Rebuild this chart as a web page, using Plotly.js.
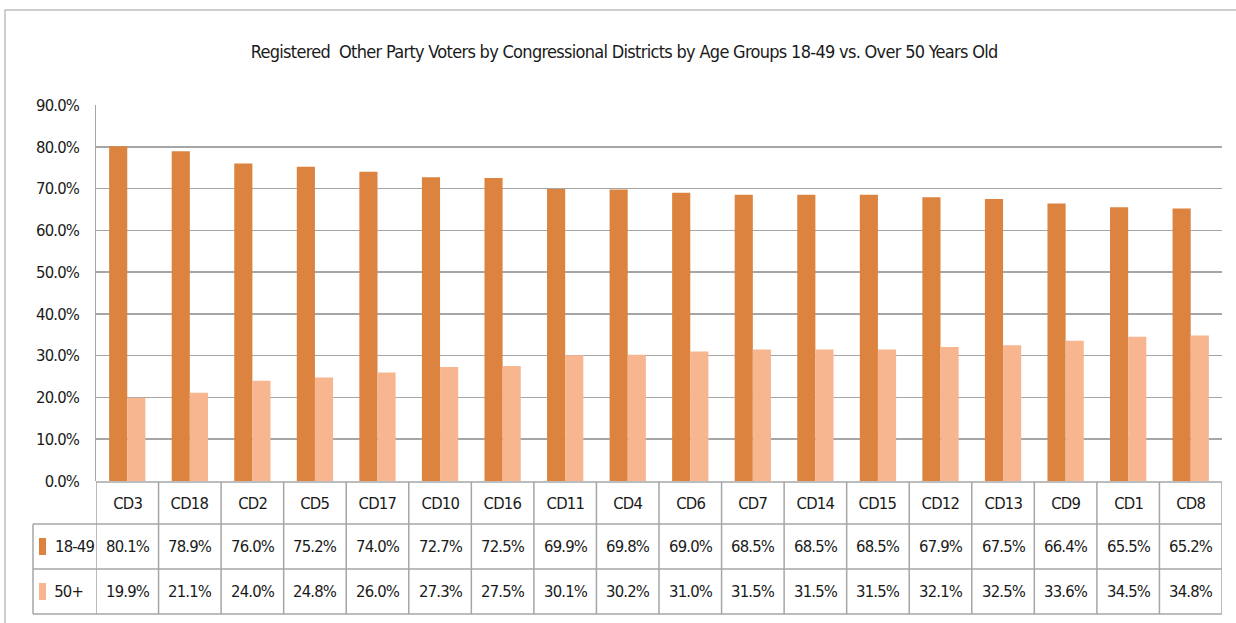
<!DOCTYPE html>
<html><head><meta charset="utf-8">
<script src="https://cdn.plot.ly/plotly-3.0.1.min.js"></script>
<style>html,body{margin:0;padding:0;background:#fff}#chart{width:1236px;height:623px}
#chart .main-svg text{letter-spacing:-0.8px}
#chart .main-svg .gtitle{letter-spacing:-0.7px}
</style>
</head><body><div id="chart"></div>
<script>
const categories = ['CD3','CD18','CD2','CD5','CD17','CD10','CD16','CD11','CD4','CD6','CD7','CD14','CD15','CD12','CD13','CD9','CD1','CD8'];
const series1849 = [80.1,78.9,76.0,75.2,74.0,72.7,72.5,69.9,69.8,69.0,68.5,68.5,68.5,67.9,67.5,66.4,65.5,65.2];
const series50 = [19.9,21.1,24.0,24.8,26.0,27.3,27.5,30.1,30.2,31.0,31.5,31.5,31.5,32.1,32.5,33.6,34.5,34.8];
const seriesNames = ['18-49','50+'];
const colors = ['#DC843F','#F7B590'];

const W=1236,H=623, L=96, R=1222, T=105, B=481;
const FONT = '"DejaVu Sans Condensed","DejaVu Sans",sans-serif';
const px = x => (x-L)/(R-L);
const py = y => (B-y)/(B-T);
const grid = '#A6A6A6';
const txt = '#1a1a1a';
const FS = 16.5;

const rowY = [503, 546, 591];
const lineYs = [482, 524, 569, 614];
const shapes = [];
const annotations = [];

// outer border
shapes.push({type:'rect',xref:'paper',yref:'paper',x0:px(5),x1:px(1245),y0:py(10),y1:py(640),line:{color:'#BFBFBF',width:1.5},fillcolor:'rgba(0,0,0,0)'});
// horizontal table lines
shapes.push({type:'line',xref:'paper',yref:'paper',x0:0,x1:1,y0:py(lineYs[0]),y1:py(lineYs[0]),line:{color:grid,width:1.5}});
for (let k=1;k<lineYs.length;k++){
  shapes.push({type:'line',xref:'paper',yref:'paper',x0:px(33),x1:1,y0:py(lineYs[k]),y1:py(lineYs[k]),line:{color:grid,width:1.5}});
}
// vertical lines
shapes.push({type:'line',xref:'paper',yref:'paper',x0:px(33),x1:px(33),y0:py(524),y1:py(614),line:{color:grid,width:1.5}});
for (let i=0;i<=categories.length;i++){
  shapes.push({type:'line',xref:'x',yref:'paper',x0:i-0.5,x1:i-0.5,y0:py(482),y1:py(614),line:{color:grid,width:1.5}});
}
// legend swatches and labels
[[538,555],[583,600]].forEach((r,k)=>{
  shapes.push({type:'rect',xref:'paper',yref:'paper',x0:px(39),x1:px(46),y0:py(r[0]),y1:py(r[1]),fillcolor:colors[k],line:{width:0}});
  annotations.push({xref:'paper',yref:'paper',x:px(51),y:py(rowY[k+1]),xanchor:'left',yanchor:'middle',showarrow:false,text:seriesNames[k],font:{family:FONT,size:FS,color:txt}});
});
// table cells
categories.forEach((c,i)=>{
  annotations.push({xref:'x',yref:'paper',x:i,y:py(rowY[0]),showarrow:false,yanchor:'middle',text:c,font:{family:FONT,size:FS,color:txt}});
  annotations.push({xref:'x',yref:'paper',x:i,y:py(rowY[1]),showarrow:false,yanchor:'middle',text:series1849[i].toFixed(1)+'%',font:{family:FONT,size:FS,color:txt}});
  annotations.push({xref:'x',yref:'paper',x:i,y:py(rowY[2]),showarrow:false,yanchor:'middle',text:series50[i].toFixed(1)+'%',font:{family:FONT,size:FS,color:txt}});
});

const data = [
  {type:'bar',name:seriesNames[0],x:categories,y:series1849,marker:{color:colors[0]},hoverinfo:'skip'},
  {type:'bar',name:seriesNames[1],x:categories,y:series50,marker:{color:colors[1]},hoverinfo:'skip'}
];
const layout = {
  width:W,height:H,
  margin:{l:L,r:W-R,t:T,b:H-B,pad:0},
  paper_bgcolor:'#fff',plot_bgcolor:'#fff',
  showlegend:false,
  barmode:'group',bargap:0.42,bargroupgap:0,
  title:{text:'Registered  Other Party Voters by Congressional Districts by Age Groups 18-49 vs. Over 50 Years Old',font:{family:FONT,size:18,color:txt},x:0.505,xanchor:'center',y:1-52/H,yanchor:'middle'},
  xaxis:{type:'category',showticklabels:false,showgrid:false,zeroline:false,showline:false,ticks:'',range:[-0.5,categories.length-0.5]},
  yaxis:{range:[0,90],dtick:10,tickformat:'.1f',ticksuffix:'%',showgrid:true,gridcolor:grid,gridwidth:1.5,zeroline:false,showline:true,linecolor:grid,linewidth:1.5,ticks:'',ticklabelstandoff:12,tickfont:{family:FONT,size:FS,color:txt}},
  shapes:shapes,annotations:annotations
};
Plotly.newPlot('chart',data,layout,{displayModeBar:false,staticPlot:true});
</script></body></html>
